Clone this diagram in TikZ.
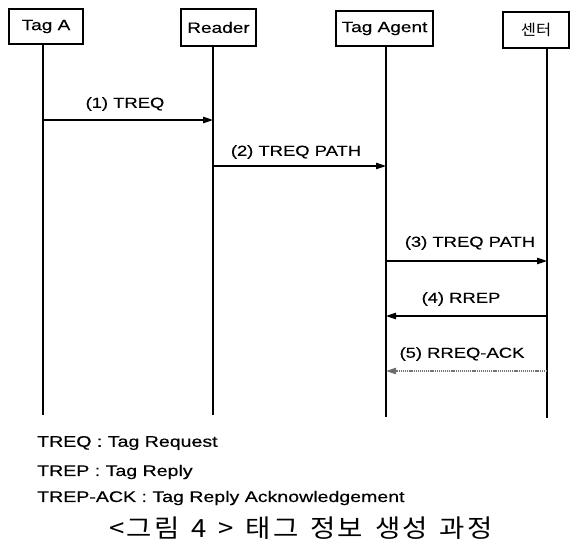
\documentclass[tikz,border=0pt]{standalone}
\usepackage{fontspec}
\setmainfont{Liberation Sans}[FakeStretch=1.27,FakeBold=0.4]
\newfontfamily\krfont{Noto Sans CJK KR}[FakeStretch=1.1,LetterSpace=8]
\newfontfamily\krbox{Noto Sans CJK KR}[FakeStretch=1.1]
\usetikzlibrary{arrows.meta}
\begin{document}
\begin{tikzpicture}[x=1pt,y=-1pt,
  actor/.style={draw, line width=1.2pt, inner sep=0pt, font=\fontsize{15}{18}\selectfont},
  life/.style={line width=1.2pt},
  msg/.style={line width=1.1pt, -{Triangle[length=10pt,width=6.5pt]}},
  ackmsg/.style={line width=1.1pt, draw=black!55, dash pattern=on 1.2pt off 0.9pt, -{Triangle[length=10pt,width=6.5pt,fill=black!60]}},
  lbl/.style={font=\fontsize{14.5}{17}\selectfont, inner sep=0pt},
  legend/.style={font=\fontsize{15.4}{18}\selectfont, anchor=west, inner sep=0pt},
  caption/.style={font=\krfont\fontsize{25}{28}\selectfont, inner sep=0pt}]
\useasboundingbox (0,0) rectangle (577,547);
% actor boxes
\node[actor, minimum width=74pt, minimum height=35pt] (A) at (46,26.5) {Tag A};
\node[actor, minimum width=75pt, minimum height=37pt] (R) at (218.5,27.5) {Reader};
\node[actor, minimum width=97pt, minimum height=35pt] (T) at (384.5,28.5) {Tag Agent};
\node[actor, minimum width=66pt, minimum height=36pt] (C) at (536,30) {\krbox 센터};
% lifeline bottoms
\coordinate (Abot) at (43,415);
\coordinate (Rbot) at (213,415);
\coordinate (Tbot) at (386,417);
\coordinate (Cbot) at (547,418);
\draw[life] (Abot |- A.south) -- (Abot);
\draw[life] (Rbot |- R.south) -- (Rbot);
\draw[life] (Tbot |- T.south) -- (Tbot);
\draw[life] (Cbot |- C.south) -- (Cbot);
% message points
\coordinate (a1) at (43,120);  \coordinate (r1) at (213,120);
\coordinate (r2) at (213,166); \coordinate (t2) at (386,166);
\coordinate (t3) at (386,261); \coordinate (c3) at (547,261);
\coordinate (t4) at (386,316); \coordinate (c4) at (547,316);
\coordinate (t5) at (386,371); \coordinate (c5) at (547,371);
\draw[msg] (a1) -- (r1);
\draw[msg] (r2) -- (t2);
\draw[msg] (t3) -- (c3);
\draw[msg] (c4) -- (t4);
\draw[ackmsg] (c5) -- (t5);
% labels
\node[lbl] (l1) at (125,104) {(1) TREQ};
\node[lbl] (l2) at (296,152) {(2) TREQ PATH};
\node[lbl] (l3) at (470,243) {(3) TREQ PATH};
\node[lbl] (l4) at (461,299) {(4) RREP};
\node[lbl] (l5) at (462,354) {(5) RREQ-ACK};
% legend
\node[legend] (g1) at (37,443) {TREQ : Tag Request};
\node[legend] (g2) at (37,472) {TREP : Tag Reply};
\node[legend] (g3) at (37,498) {TREP-ACK : Tag Reply Acknowledgement};
\node[caption] (cap) at (301,528) {\spaceskip=12pt\relax <그림 4 > 태그 정보 생성 과정};
\end{tikzpicture}
\end{document}
